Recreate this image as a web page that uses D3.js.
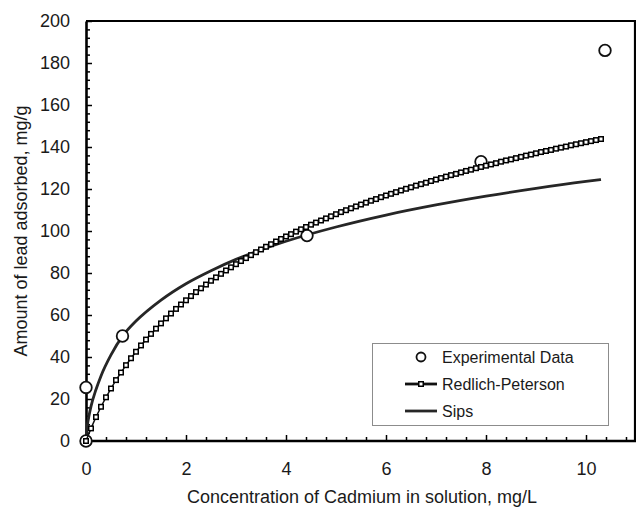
<!DOCTYPE html>
<html>
<head>
<meta charset="utf-8">
<title>Lead adsorption isotherms</title>
<script src="https://cdn.jsdelivr.net/npm/d3@7"></script>
<style>
  html, body { margin: 0; padding: 0; background: #fff; }
  #chart text { font-family: "Liberation Sans", Arial, sans-serif; fill: #1a1a1a; }
</style>
</head>
<body>
<div id="chart"></div>
<script>
// -------------------------------------------------------------------------
// Data

// experimental points
const expConc = [0, 0, 0.73, 4.42, 7.9, 10.38];
const expAmount = [0, 25.5, 50, 97.8, 133, 186];

// Redlich-Peterson model, one marker every 0.1 mg/L
const rpConc = [
  0, 0.1, 0.2, 0.3, 0.4, 0.5, 0.6, 0.7, 0.8, 0.9,
  1.0, 1.1, 1.2, 1.3, 1.4, 1.5, 1.6, 1.7, 1.8, 1.9,
  2.0, 2.1, 2.2, 2.3, 2.4, 2.5, 2.6, 2.7, 2.8, 2.9,
  3.0, 3.1, 3.2, 3.3, 3.4, 3.5, 3.6, 3.7, 3.8, 3.9,
  4.0, 4.1, 4.2, 4.3, 4.4, 4.5, 4.6, 4.7, 4.8, 4.9,
  5.0, 5.1, 5.2, 5.3, 5.4, 5.5, 5.6, 5.7, 5.8, 5.9,
  6.0, 6.1, 6.2, 6.3, 6.4, 6.5, 6.6, 6.7, 6.8, 6.9,
  7.0, 7.1, 7.2, 7.3, 7.4, 7.5, 7.6, 7.7, 7.8, 7.9,
  8.0, 8.1, 8.2, 8.3, 8.4, 8.5, 8.6, 8.7, 8.8, 8.9,
  9.0, 9.1, 9.2, 9.3, 9.4, 9.5, 9.6, 9.7, 9.8, 9.9,
  10.0, 10.1, 10.2, 10.3
];
const rpAmount = [
  0, 6.0, 11.4, 16.3, 20.8, 25.0, 29.0, 32.6, 36.1, 39.4,
  42.5, 45.5, 48.3, 51.0, 53.5, 56.0, 58.4, 60.7, 62.9, 65.0,
  67.0, 69.0, 70.9, 72.7, 74.5, 76.3, 77.9, 79.6, 81.2, 82.7,
  84.2, 85.7, 87.1, 88.5, 89.9, 91.2, 92.5, 93.7, 95.0, 96.2,
  97.4, 98.5, 99.7, 100.8, 101.9, 103.0, 104.0, 105.0, 106.0, 107.0,
  108.0, 109.0, 109.9, 110.8, 111.7, 112.6, 113.5, 114.4, 115.2, 116.1,
  116.9, 117.7, 118.5, 119.3, 120.1, 120.8, 121.6, 122.3, 123.0, 123.8,
  124.5, 125.2, 125.9, 126.6, 127.2, 127.9, 128.6, 129.2, 129.9, 130.5,
  131.1, 131.7, 132.3, 133.0, 133.6, 134.1, 134.7, 135.3, 135.9, 136.4,
  137.0, 137.6, 138.1, 138.6, 139.2, 139.7, 140.2, 140.8, 141.3, 141.8,
  142.3, 142.8, 143.3, 143.8
];

// Sips model (plain line)
const sipsConc = [0, 0.01, 0.03, 0.06, 0.1, 0.2, 0.3, 0.5, 0.75, 1, 1.5, 2, 2.5, 3, 3.5, 4, 5, 6, 7, 8, 9, 10, 10.3];
const sipsAmount = [0, 4, 8, 12, 16.5, 24.5, 31, 41, 50.5, 57.1, 67.1, 74.9, 81.1, 86.5, 91.0, 95.1, 101.9, 107.6, 112.4, 116.6, 120.3, 123.6, 124.5];

// axes
const xTicks = [0, 2, 4, 6, 8, 10];
const yTicks = [0, 20, 40, 60, 80, 100, 120, 140, 160, 180, 200];
const xMinorStep = 0.4;
const yMinorStep = 4;

const xTitle = 'Concentration of Cadmium in solution, mg/L';
const yTitle = 'Amount of lead adsorbed, mg/g';
const legendNames = ['Experimental Data', 'Redlich-Peterson', 'Sips'];

// -------------------------------------------------------------------------
// Layout

const width = 636;
const height = 507;
const plot = { left: 86, right: 636, top: 21, bottom: 441 };

const svg = d3.select('#chart').append('svg')
  .attr('width', width)
  .attr('height', height);

const x = d3.scaleLinear().domain([0, 11]).range([plot.left, plot.right]);
const y = d3.scaleLinear().domain([0, 200]).range([plot.bottom, plot.top]);

const zip = (xs, ys) => xs.map((v, i) => ({ x: v, y: ys[i] }));
const expData = zip(expConc, expAmount);
const rpData = zip(rpConc, rpAmount);
const sipsData = zip(sipsConc, sipsAmount);

// -------------------------------------------------------------------------
// Frame (top / right border of the plot area)

svg.append('path')
  .attr('d', `M${plot.left},${plot.top}H${plot.right - 1}V${plot.bottom}`)
  .attr('fill', 'none')
  .attr('stroke', '#000')
  .attr('stroke-width', 2.2);

// -------------------------------------------------------------------------
// Axes

const minorX = d3.range(0, 11.001, xMinorStep).filter(v => Math.abs(v / 2 - Math.round(v / 2)) > 1e-6);
const minorY = d3.range(0, 200.001, yMinorStep).filter(v => v % 20 !== 0);

svg.append('g')
  .attr('transform', `translate(0,${plot.bottom})`)
  .call(d3.axisBottom(x).tickValues(minorX).tickFormat('').tickSizeInner(-4).tickSizeOuter(0))
  .call(g => g.select('.domain').remove())
  .selectAll('line').attr('stroke', '#000').attr('stroke-width', 1.5);

svg.append('g')
  .attr('transform', `translate(${plot.left},0)`)
  .call(d3.axisLeft(y).tickValues(minorY).tickFormat('').tickSizeInner(-4).tickSizeOuter(0))
  .call(g => g.select('.domain').remove())
  .selectAll('line').attr('stroke', '#000').attr('stroke-width', 1.5);

const xAxis = svg.append('g')
  .attr('transform', `translate(0,${plot.bottom})`)
  .call(d3.axisBottom(x).tickValues(xTicks).tickSizeInner(-6).tickSizeOuter(0).tickPadding(21));

const yAxis = svg.append('g')
  .attr('transform', `translate(${plot.left},0)`)
  .call(d3.axisLeft(y).tickValues(yTicks).tickSizeInner(-6).tickSizeOuter(0).tickPadding(16));

[xAxis, yAxis].forEach(g => {
  g.select('.domain').attr('stroke', '#000').attr('stroke-width', 2.6);
  g.selectAll('.tick line').attr('stroke', '#000').attr('stroke-width', 1.5);
  g.selectAll('.tick text').attr('font-size', 18).attr('fill', '#1a1a1a');
});
// keep the x domain across the whole plot width
xAxis.select('.domain').attr('d', `M${plot.left},0H${plot.right}`);

// titles
svg.append('text')
  .attr('x', 362)
  .attr('y', 503)
  .attr('text-anchor', 'middle')
  .attr('font-size', 18)
  .text(xTitle);

svg.append('text')
  .attr('transform', 'translate(27,231) rotate(-90)')
  .attr('text-anchor', 'middle')
  .attr('font-size', 18)
  .text(yTitle);

// -------------------------------------------------------------------------
// Series

const line = d3.line().x(d => x(d.x)).y(d => y(d.y));

// Sips
svg.append('path')
  .datum(sipsData)
  .attr('d', line.curve(d3.curveMonotoneX))
  .attr('fill', 'none')
  .attr('stroke', '#262626')
  .attr('stroke-width', 2.8);

// experimental
svg.selectAll('.exp')
  .data(expData)
  .enter().append('circle')
  .attr('class', 'exp')
  .attr('cx', d => x(d.x))
  .attr('cy', d => y(d.y))
  .attr('r', 5.8)
  .attr('fill', '#fff')
  .attr('stroke', '#111')
  .attr('stroke-width', 1.8);

// Redlich-Peterson
svg.append('path')
  .datum(rpData)
  .attr('d', d3.line().x(d => x(d.x)).y(d => y(d.y)))
  .attr('fill', 'none')
  .attr('stroke', '#111')
  .attr('stroke-width', 1.5);

const sq = 4.5;
svg.selectAll('.rp')
  .data(rpData)
  .enter().append('rect')
  .attr('class', 'rp')
  .attr('x', d => x(d.x) - sq / 2)
  .attr('y', d => y(d.y) - sq / 2)
  .attr('width', sq)
  .attr('height', sq)
  .attr('fill', '#fff')
  .attr('stroke', '#000')
  .attr('stroke-width', 1.5);

// -------------------------------------------------------------------------
// Legend

const legend = svg.append('g');

legend.append('rect')
  .attr('x', 372.5)
  .attr('y', 343.5)
  .attr('width', 236)
  .attr('height', 82)
  .attr('fill', '#fff')
  .attr('stroke', '#8c8c8c')
  .attr('stroke-width', 1);

const rowY = [357, 384, 411];
const symX = 421;

legend.append('circle')
  .attr('cx', symX)
  .attr('cy', rowY[0])
  .attr('r', 4.5)
  .attr('fill', '#fff')
  .attr('stroke', '#111')
  .attr('stroke-width', 1.8);

legend.append('line')
  .attr('x1', 405).attr('x2', 437)
  .attr('y1', rowY[1]).attr('y2', rowY[1])
  .attr('stroke', '#111')
  .attr('stroke-width', 2.8);
legend.append('rect')
  .attr('x', symX - sq / 2)
  .attr('y', rowY[1] - sq / 2)
  .attr('width', sq)
  .attr('height', sq)
  .attr('fill', '#fff')
  .attr('stroke', '#000')
  .attr('stroke-width', 1.5);

legend.append('line')
  .attr('x1', 405).attr('x2', 437)
  .attr('y1', rowY[2]).attr('y2', rowY[2])
  .attr('stroke', '#262626')
  .attr('stroke-width', 2.8);

legend.selectAll('.legend-label')
  .data(legendNames)
  .enter().append('text')
  .attr('class', 'legend-label')
  .attr('x', 442)
  .attr('y', (d, i) => rowY[i])
  .attr('dy', '0.35em')
  .attr('font-size', 16)
  .text(d => d);
</script>
</body>
</html>
